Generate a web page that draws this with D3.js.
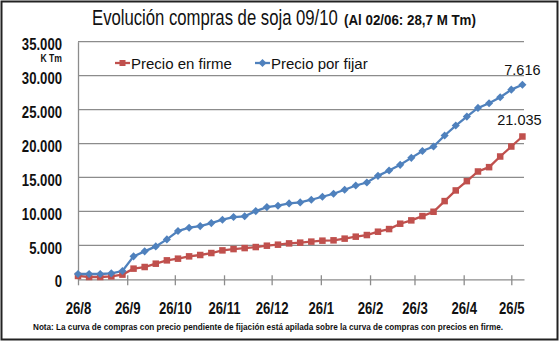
<!DOCTYPE html>
<html>
<head>
<meta charset="utf-8">
<script src="https://cdn.jsdelivr.net/npm/d3@7/dist/d3.min.js"></script>
<style>
  html, body { margin: 0; padding: 0; background: #fff; }
  svg { display: block; }
  text { font-family: "Liberation Sans", Arial, sans-serif; }
</style>
</head>
<body>
<svg id="chart" width="560" height="342"></svg>
<script>
// Weekly purchase dates (2009/10 soybean season)
const dates = [
  "2009-08-26","2009-09-02","2009-09-09","2009-09-16","2009-09-23","2009-09-30",
  "2009-10-07","2009-10-14","2009-10-21","2009-10-28","2009-11-04","2009-11-11",
  "2009-11-18","2009-11-25","2009-12-02","2009-12-09","2009-12-16","2009-12-23",
  "2009-12-30","2010-01-06","2010-01-13","2010-01-20","2010-01-27","2010-02-03",
  "2010-02-10","2010-02-17","2010-02-24","2010-03-03","2010-03-10","2010-03-17",
  "2010-03-24","2010-03-31","2010-04-07","2010-04-14","2010-04-21","2010-04-28",
  "2010-05-05","2010-05-12","2010-05-19","2010-05-26","2010-06-02"
];

// Purchases with fixed price (K Tm, cumulative)
const precioEnFirme = [
  490, 340, 340, 440, 690, 1570, 1810, 2300, 2790, 3040, 3380, 3580,
  3870, 4260, 4450, 4600, 4750, 4950, 5100, 5290, 5400, 5550, 5690, 5740,
  5990, 6280, 6520, 7010, 7400, 8190, 8680, 9310, 9950, 11520, 13090, 14460,
  15880, 16520, 18090, 19560, 21035
];

// Purchases with price still to be fixed (K Tm), stacked on top of the firm curve
const precioPorFijar = [
  290, 440, 440, 440, 530, 1810, 2310, 2550, 3090, 4070, 4220, 4260,
  4410, 4520, 4720, 4680, 5300, 5690, 5740, 5890, 5930, 6170, 6470, 6860,
  7200, 7540, 7740, 8230, 8620, 8670, 9210, 9590, 9610, 9660, 9560, 9510,
  9370, 9410, 8720, 8380, 7616
];

const yTicks = [0, 5000, 10000, 15000, 20000, 25000, 30000, 35000];
const xTickDates = ["2009-08-26","2009-09-26","2009-10-26","2009-11-26","2009-12-26",
                    "2010-01-26","2010-02-26","2010-03-26","2010-04-26","2010-05-26"];
const xTickLabels = ["26/8","26/9","26/10","26/11","26/12","26/1","26/2","26/3","26/4","26/5"];
const seriesNames = ["Precio en firme", "Precio por fijar"];

const titleText = "Evolución compras de soja 09/10";
const subtitleText = "(Al 02/06: 28,7 M Tm)";
const noteText = "Nota: La curva de compras con precio pendiente de fijación está apilada sobre la curva de compras con precios en firme.";

const RED = "#C0504D", BLUE = "#4F81BD", GRID = "#8c8c8c", INK = "#111";

// Condense text horizontally (narrow typeface look)
function condense(sel, f = 0.82) {
  sel.each(function () {
    const w = this.getComputedTextLength();
    d3.select(this).attr("textLength", w * f).attr("lengthAdjust", "spacingAndGlyphs");
  });
}

// Place a text at (px, py) horizontally scaled so it spans exactly `width` pixels
function fitText(parent, px, py, width, str, size, weight) {
  const t = parent.append("text")
    .attr("x", 0).attr("y", 0).attr("fill", INK)
    .attr("font-size", size).attr("font-weight", weight)
    .text(str);
  const k = width / t.node().getComputedTextLength();
  t.attr("transform", `translate(${px},${py}) scale(${k},1)`);
  return t;
}

const parse = d3.timeParse("%Y-%m-%d");
const rows = dates.map((d, i) => ({
  date: parse(d),
  firme: precioEnFirme[i],
  porFijar: precioPorFijar[i]
}));

// Stack the "por fijar" amounts on the firm amounts
const stacked = d3.stack().keys(["firme", "porFijar"])(rows);
const firmPts = stacked[0].map(s => ({ date: s.data.date, v: s[1] }));
const totalPts = stacked[1].map(s => ({ date: s.data.date, v: s[1] }));

const svg = d3.select("#chart");
const plotL = 78, plotR = 524, plotT = 41.7, plotB = 279.3;

const x = d3.scaleTime()
  .domain([parse("2009-08-26"), parse("2010-06-03")])
  .range([plotL, plotR]);
const y = d3.scaleLinear().domain([0, 35000]).range([plotB, plotT]);

// Outer frame
svg.append("rect")
  .attr("x", 1.5).attr("y", 1.5).attr("width", 556).attr("height", 338)
  .attr("fill", "#fff").attr("stroke", "#222").attr("stroke-width", 2);

// Title
fitText(svg, 92, 25, 246, titleText, 22, "normal");
fitText(svg, 344, 25, 132, subtitleText, 15.5, "bold");

// Horizontal gridlines
svg.append("g").selectAll("line").data(yTicks.filter(t => t > 0)).join("line")
  .attr("x1", plotL).attr("x2", plotR)
  .attr("y1", d => y(d)).attr("y2", d => y(d))
  .attr("stroke", GRID).attr("stroke-width", 1.3);

// Y axis (labels only, on the left)
const fmt = d => d3.format(",")(d).replace(/,/g, ".");
const yAxis = svg.append("g")
  .attr("transform", `translate(${plotL},0)`)
  .call(d3.axisLeft(y).tickValues(yTicks).tickSize(0).tickPadding(16).tickFormat(fmt));
yAxis.select(".domain").attr("stroke", GRID).attr("stroke-width", 1.3);
yAxis.selectAll("text")
  .attr("font-family", null)
  .attr("font-size", 16).attr("font-weight", "bold").attr("fill", INK)
  .attr("dy", "0.48em")
  .call(condense);

svg.append("text")
  .attr("x", 62).attr("y", 62).attr("text-anchor", "end")
  .attr("font-size", 10.5).attr("font-weight", "bold").attr("fill", INK)
  .text("K Tm")
  .call(condense);

// X axis with cross tick marks
const xAxis = svg.append("g")
  .attr("transform", `translate(0,${plotB})`)
  .call(d3.axisBottom(x).tickValues(xTickDates.map(parse))
    .tickSizeInner(6).tickSizeOuter(0).tickPadding(17)
    .tickFormat((d, i) => xTickLabels[i]));
xAxis.select(".domain").attr("stroke", GRID).attr("stroke-width", 1.3);
xAxis.selectAll(".tick line").attr("stroke", GRID).attr("stroke-width", 1.3)
  .attr("y1", -4);
xAxis.selectAll("text")
  .attr("font-family", null)
  .attr("font-size", 16).attr("font-weight", "bold").attr("fill", INK)
  .call(condense);

// Lines
const line = d3.line().x(d => x(d.date)).y(d => y(d.v));
svg.append("path").datum(firmPts)
  .attr("fill", "none").attr("stroke", RED).attr("stroke-width", 2.3).attr("d", line);
svg.append("path").datum(totalPts)
  .attr("fill", "none").attr("stroke", BLUE).attr("stroke-width", 2.3).attr("d", line);

// Markers
const sq = 6.5;
svg.append("g").selectAll("rect").data(firmPts).join("rect")
  .attr("x", d => x(d.date) - sq / 2).attr("y", d => y(d.v) - sq / 2)
  .attr("width", sq).attr("height", sq).attr("fill", RED);
const diamond = d3.symbol().type(d3.symbolDiamond2).size(42);
svg.append("g").selectAll("path").data(totalPts).join("path")
  .attr("transform", d => `translate(${x(d.date)},${y(d.v)})`)
  .attr("d", diamond).attr("fill", BLUE);

// End-of-series value labels
const last = rows.length - 1;
svg.append("text")
  .attr("x", x(rows[last].date)).attr("y", y(totalPts[last].v) - 10)
  .attr("text-anchor", "middle").attr("font-size", 14.5).attr("fill", INK)
  .text(fmt(precioPorFijar[last]));
svg.append("text")
  .attr("x", x(rows[last].date) - 3).attr("y", y(firmPts[last].v) - 12)
  .attr("text-anchor", "middle").attr("font-size", 14.5).attr("fill", INK)
  .text(fmt(precioEnFirme[last]));

// Legend
const legend = [
  { name: seriesNames[0], color: RED, x: 115, shape: "square" },
  { name: seriesNames[1], color: BLUE, x: 255, shape: "diamond" }
];
const lg = svg.append("g").selectAll("g").data(legend).join("g")
  .attr("transform", d => `translate(${d.x},63)`);
lg.append("line").attr("x1", 0).attr("x2", 15).attr("y1", 0).attr("y2", 0)
  .attr("stroke", d => d.color).attr("stroke-width", 2.3);
lg.filter(d => d.shape === "square").append("rect")
  .attr("x", 7.5 - 3).attr("y", -3).attr("width", 6).attr("height", 6).attr("fill", RED);
lg.filter(d => d.shape === "diamond").append("path")
  .attr("transform", "translate(7.5,0)").attr("d", diamond).attr("fill", BLUE);
lg.append("text")
  .attr("x", 16).attr("y", 5.5).attr("font-size", 15).attr("fill", INK)
  .text(d => d.name);

// Footnote
svg.append("text")
  .attr("x", 33).attr("y", 330)
  .attr("font-size", 8.5).attr("font-weight", "bold").attr("fill", INK)
  .attr("textLength", 470).attr("lengthAdjust", "spacingAndGlyphs")
  .text(noteText);
</script>
</body>
</html>
